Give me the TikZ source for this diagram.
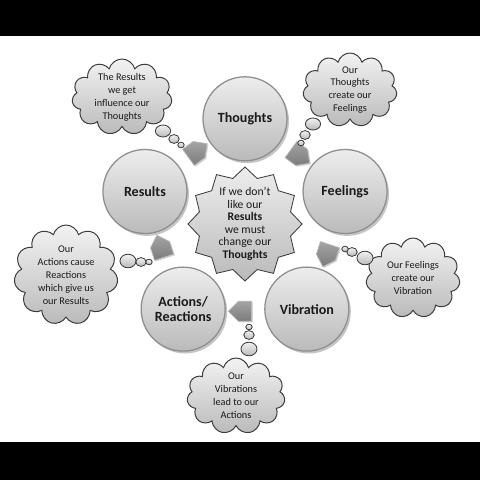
\documentclass[tikz,border=0pt]{standalone}
\usepackage{fontspec}
\setmainfont{Carlito}
\usetikzlibrary{positioning,shapes.geometric,shapes.symbols,shadows}
\definecolor{ink}{HTML}{1A1A1A}
\definecolor{rim}{HTML}{8E8E8E}
\definecolor{pale}{HTML}{EDEDED}
\definecolor{dusk}{HTML}{BABABA}
\definecolor{slate}{HTML}{3C3C3C}
\definecolor{steel}{HTML}{7C7C7C}

\begin{document}
\begin{tikzpicture}[
      orb/.style={circle,draw=rim,line width=0.9pt,top color=pale,bottom color=dusk,minimum size=2.1cm,inner sep=0pt,align=center,text=ink,font=\fontsize{10}{11}\selectfont\bfseries,drop shadow={shadow xshift=0.05cm,shadow yshift=-0.06cm,opacity=0.45}},
      puff/.style={cloud,cloud puffs=11,cloud ignores aspect,draw=slate,line width=0.7pt,top color=white!95!black,bottom color=dusk,inner sep=0pt},
      say/.style={align=center,text=ink,inner sep=0pt,font=\fontsize{7.3}{9.2}\selectfont},
      bub/.style={draw=slate,line width=0.6pt,top color=white!95!black,bottom color=dusk},
      turn/.style={signal,signal to=east,draw=rim!60!white,line width=0.5pt,top color=steel!70!white,bottom color=steel,minimum width=0.58cm,minimum height=0.5cm,inner sep=0pt,drop shadow={shadow xshift=0.03cm,shadow yshift=-0.03cm,opacity=0.35}}]
      \useasboundingbox (-6.125,-6.4) rectangle (5.875,5.6);
      \fill[white] (-6.125,-6.4) rectangle (5.875,5.6);
      \fill[black] (-6.125,4.7) rectangle (5.875,5.6);
      \fill[black] (-6.125,-6.4) rectangle (5.875,-5.45);
      \node[star,star points=12,star point ratio=1.21,minimum size=2.85cm,inner sep=0pt,draw=slate,line width=0.6pt,top color=pale,bottom color=dusk] (core) at (0,0) {};
      \node[say,font=\fontsize{8.3}{8.9}\selectfont] (coretext) at (core) {If we don't\\like our\\\textbf{Results}\\we must\\change our\\\textbf{Thoughts}};
      \node[orb] (thoughts) at (90:2.63) {Thoughts};
      \node[orb] (feelings) at (18:2.63) {Feelings};
      \node[orb] (vibration) at (-54:2.63) {Vibration};
      \node[orb] (actions) at (-126:2.63) {Actions/\\Reactions};
      \node[orb] (results) at (162:2.63) {Results};
      \node[turn,rotate=36] (rt) at (126:2.18) {};
      \node[turn,rotate=-36] (tf) at (54:2.18) {};
      \node[turn,rotate=-108] (fv) at (-18:2.18) {};
      \node[turn,rotate=180] (va) at (-90:2.18) {};
      \node[turn,rotate=108] (ar) at (-162:2.18) {};
      \node[puff,minimum width=2.5cm,minimum height=1.9cm] (cloudrt) at (-3.075,3.175) {};
      \node[say] (saysrt) at (cloudrt) {The Results\\we get\\influence our\\Thoughts};
      \node[puff,minimum width=2.35cm,minimum height=1.85cm] (cloudtf) at (2.625,3.35) {};
      \node[say] (saystf) at (cloudtf) {Our\\Thoughts\\create our\\Feelings};
      \node[puff,minimum width=2.35cm,minimum height=2.0cm] (cloudfv) at (4.2,-1.35) {};
      \node[say] (saysfv) at (cloudfv) {Our Feelings\\create our\\Vibration};
      \node[puff,minimum width=2.45cm,minimum height=1.9cm] (cloudva) at (-0.225,-4.3) {};
      \node[say] (saysva) at (cloudva) {Our\\Vibrations\\lead to our\\Actions};
      \node[puff,minimum width=2.6cm,minimum height=2.5cm] (cloudar) at (-4.475,-1.275) {};
      \node[say] (saysar) at (cloudar) {Our\\Actions cause\\Reactions\\which give us\\our Results};
      \draw[bub] (-2.05,2.325) ellipse (0.19 and 0.15);
      \draw[bub] (-1.775,2.125) ellipse (0.13 and 0.11);
      \draw[bub] (-1.6,1.975) ellipse (0.08 and 0.07);
      \draw[bub] (1.7,2.5) ellipse (0.19 and 0.15);
      \draw[bub] (1.5,2.225) ellipse (0.13 and 0.11);
      \draw[bub] (1.4,2.025) ellipse (0.08 and 0.07);
      \draw[bub] (3.0,-0.85) ellipse (0.2 and 0.17);
      \draw[bub] (2.675,-0.7) ellipse (0.13 and 0.11);
      \draw[bub] (2.5,-0.625) ellipse (0.08 and 0.07);
      \draw[bub] (0.1,-3.125) ellipse (0.2 and 0.17);
      \draw[bub] (0.1,-2.775) ellipse (0.13 and 0.11);
      \draw[bub] (0.1,-2.575) ellipse (0.08 and 0.07);
      \draw[bub] (-2.925,-0.925) ellipse (0.2 and 0.17);
      \draw[bub] (-2.6,-0.95) ellipse (0.13 and 0.11);
      \draw[bub] (-2.4,-0.95) ellipse (0.08 and 0.07);
    \end{tikzpicture}
\end{document}
